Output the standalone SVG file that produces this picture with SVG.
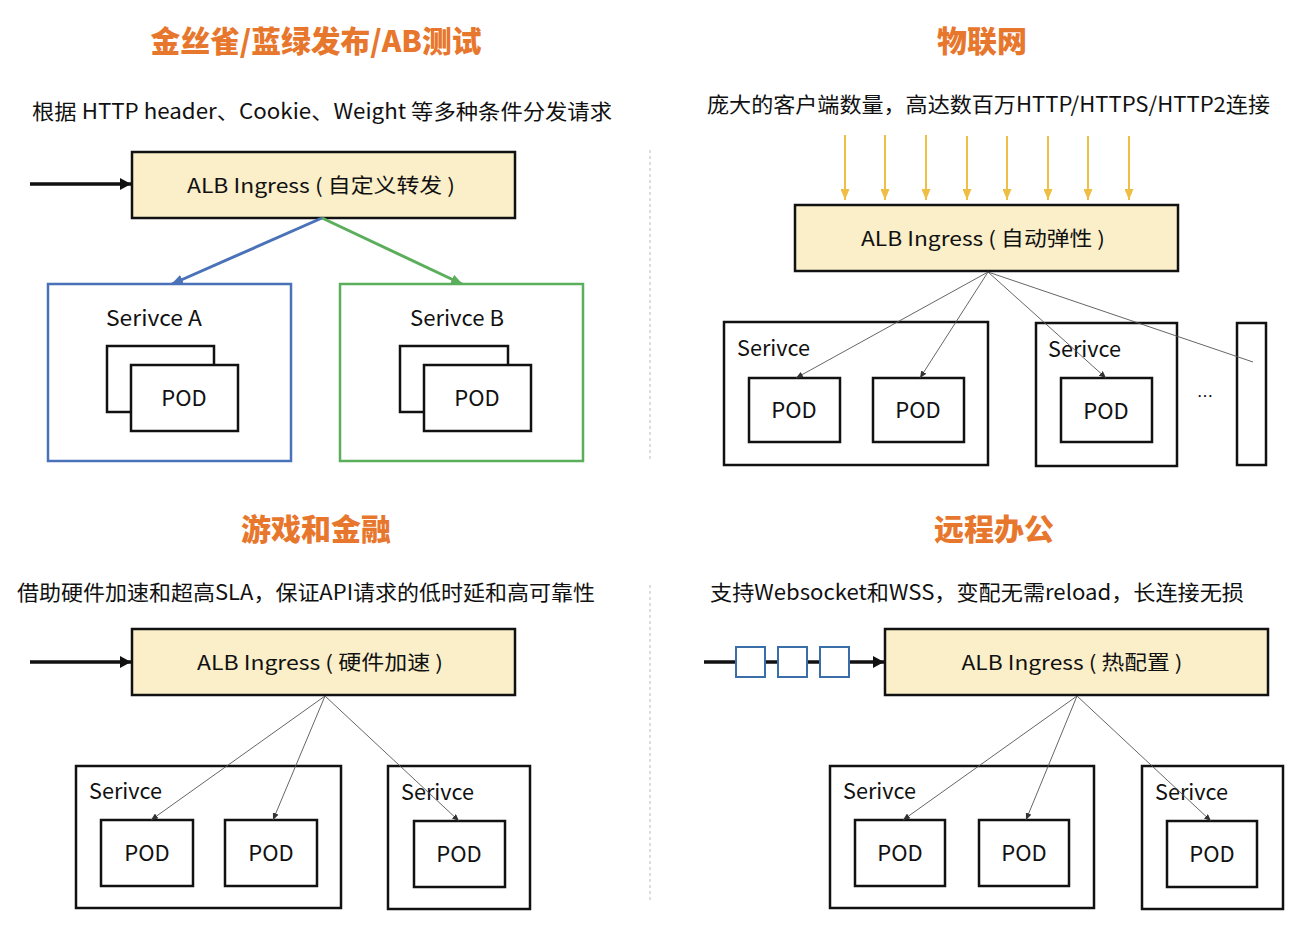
<svg xmlns="http://www.w3.org/2000/svg" width="1304" height="935" viewBox="0 0 1304 935">
<style>
text{font-family:"Noto Sans CJK SC","Noto Sans",sans-serif;fill:#111}
.title{font-size:30px;font-weight:900;fill:#E8772E;text-anchor:middle}
.sub{font-size:21px}
.alb{fill:#FAEFC9;stroke:#111;stroke-width:2.5}
.albt{font-size:20px;text-anchor:middle}
.svc{fill:#fff;stroke:#111;stroke-width:2.5}
.pod{fill:#fff;stroke:#111;stroke-width:2.5}
.lbl{font-size:22px}
.podt{font-size:22px;text-anchor:middle}
.thin{stroke:#555;stroke-width:0.9;fill:none}
.div{stroke:#bbb;stroke-width:1;stroke-dasharray:3 3}
</style>
<defs>
<marker id="ab" markerUnits="userSpaceOnUse" markerWidth="11" markerHeight="12" refX="11" refY="6" orient="auto"><path d="M0,0 L11,6 L0,12 z" fill="#111"/></marker>
<marker id="abl" markerUnits="userSpaceOnUse" markerWidth="12" markerHeight="10" refX="11" refY="5" orient="auto"><path d="M0,0 L12,5 L0,10 z" fill="#4A72B8"/></marker>
<marker id="agr" markerUnits="userSpaceOnUse" markerWidth="12" markerHeight="10" refX="11" refY="5" orient="auto"><path d="M0,0 L12,5 L0,10 z" fill="#5BAE5B"/></marker>
<marker id="ay" markerUnits="userSpaceOnUse" markerWidth="11" markerHeight="9" refX="11" refY="4.5" orient="auto"><path d="M0,0 L11,4.5 L0,9 z" fill="#EFBE45"/></marker>
<marker id="at" markerUnits="userSpaceOnUse" markerWidth="7" markerHeight="6" refX="7" refY="3" orient="auto"><path d="M0,0 L7,3 L0,6 z" fill="#333"/></marker>
</defs>

<g id="dividers">
<line class="div" x1="650" y1="150" x2="650" y2="462"/>
<line class="div" x1="650" y1="585" x2="650" y2="900"/>
</g>

<!-- Panel 1 -->
<g id="p1-title"><text class="title" x="316" y="52" textLength="331" lengthAdjust="spacingAndGlyphs">金丝雀/蓝绿发布/AB测试</text></g>
<g id="p1-sub"><text class="sub" x="32" y="119" textLength="580" lengthAdjust="spacingAndGlyphs">根据 HTTP header、Cookie、Weight 等多种条件分发请求</text></g>
<g id="p1-alb"><rect class="alb" x="132" y="152" width="383" height="66"/><text class="albt" x="321" y="193" textLength="268" lengthAdjust="spacingAndGlyphs">ALB Ingress ( 自定义转发 )</text></g>
<g id="p1-svcA"><rect x="48" y="284" width="243" height="177" fill="#fff" stroke="#4A72B8" stroke-width="2.5"/><text class="lbl" x="106" y="326" textLength="96" lengthAdjust="spacingAndGlyphs">Serivce A</text>
<rect class="pod" x="107" y="346" width="107" height="66"/><rect class="pod" x="131" y="365" width="107" height="66"/><text class="podt" x="184" y="406">POD</text></g>
<g id="p1-svcB"><rect x="340" y="284" width="243" height="177" fill="#fff" stroke="#5BAE5B" stroke-width="2.5"/><text class="lbl" x="410" y="326" textLength="94" lengthAdjust="spacingAndGlyphs">Serivce B</text>
<rect class="pod" x="400" y="346" width="108" height="66"/><rect class="pod" x="424" y="365" width="107" height="66"/><text class="podt" x="477" y="406">POD</text></g>

<!-- Panel 2 -->
<g id="p2-title"><text class="title" x="982" y="52">物联网</text></g>
<g id="p2-sub"><text class="sub" x="707" y="112" textLength="563" lengthAdjust="spacingAndGlyphs">庞大的客户端数量，高达数百万HTTP/HTTPS/HTTP2连接</text></g>
<g id="p2-alb"><rect class="alb" x="795" y="205" width="383" height="66"/><text class="albt" x="983" y="246" textLength="244" lengthAdjust="spacingAndGlyphs">ALB Ingress ( 自动弹性 )</text></g>
<g id="p2-svc1"><rect class="svc" x="724" y="322" width="264" height="143"/><text class="lbl" x="737" y="356" textLength="73" lengthAdjust="spacingAndGlyphs">Serivce</text>
<rect class="pod" x="749" y="378" width="91" height="64"/><text class="podt" x="794" y="418">POD</text>
<rect class="pod" x="873" y="378" width="91" height="64"/><text class="podt" x="918" y="418">POD</text></g>
<g id="p2-svc2"><rect class="svc" x="1036" y="323" width="141" height="143"/><text class="lbl" x="1048" y="357" textLength="73" lengthAdjust="spacingAndGlyphs">Serivce</text>
<rect class="pod" x="1061" y="378" width="91" height="64"/><text class="podt" x="1106" y="419">POD</text></g>
<g id="p2-more"><text x="1205" y="402" font-size="16" text-anchor="middle">…</text></g>
<g id="p2-svc3"><rect class="svc" x="1237" y="323" width="29" height="142"/></g>

<!-- Panel 3 -->
<g id="p3-title"><text class="title" x="316" y="540">游戏和金融</text></g>
<g id="p3-sub"><text class="sub" x="17" y="600" textLength="578" lengthAdjust="spacingAndGlyphs">借助硬件加速和超高SLA，保证API请求的低时延和高可靠性</text></g>
<g id="p3-alb"><rect class="alb" x="132" y="629" width="383" height="66"/><text class="albt" x="320" y="670" textLength="246" lengthAdjust="spacingAndGlyphs">ALB Ingress ( 硬件加速 )</text></g>
<g id="p3-svc1"><rect class="svc" x="76" y="766" width="265" height="142"/><text class="lbl" x="89" y="799" textLength="73" lengthAdjust="spacingAndGlyphs">Serivce</text>
<rect class="pod" x="101" y="820" width="92" height="66"/><text class="podt" x="147" y="861">POD</text>
<rect class="pod" x="225" y="820" width="92" height="66"/><text class="podt" x="271" y="861">POD</text></g>
<g id="p3-svc2"><rect class="svc" x="388" y="766" width="142" height="143"/><text class="lbl" x="401" y="800" textLength="73" lengthAdjust="spacingAndGlyphs">Serivce</text>
<rect class="pod" x="414" y="821" width="91" height="66"/><text class="podt" x="459" y="862">POD</text></g>

<!-- Panel 4 -->
<g id="p4-title"><text class="title" x="994" y="540">远程办公</text></g>
<g id="p4-sub"><text class="sub" x="710" y="600" textLength="534" lengthAdjust="spacingAndGlyphs">支持Websocket和WSS，变配无需reload，长连接无损</text></g>
<g id="p4-alb"><rect class="alb" x="885" y="629" width="383" height="66"/><text class="albt" x="1072" y="670" textLength="221" lengthAdjust="spacingAndGlyphs">ALB Ingress ( 热配置 )</text></g>
<g id="p4-svc1"><rect class="svc" x="830" y="766" width="264" height="142"/><text class="lbl" x="843" y="799" textLength="73" lengthAdjust="spacingAndGlyphs">Serivce</text>
<rect class="pod" x="855" y="820" width="90" height="66"/><text class="podt" x="900" y="861">POD</text>
<rect class="pod" x="979" y="820" width="90" height="66"/><text class="podt" x="1024" y="861">POD</text></g>
<g id="p4-svc2"><rect class="svc" x="1142" y="766" width="141" height="143"/><text class="lbl" x="1155" y="800" textLength="73" lengthAdjust="spacingAndGlyphs">Serivce</text>
<rect class="pod" x="1167" y="821" width="90" height="66"/><text class="podt" x="1212" y="862">POD</text></g>

<g id="connectors">
<line x1="30" y1="184" x2="131" y2="184" stroke="#111" stroke-width="3.5" marker-end="url(#ab)"/>
<line x1="322" y1="218" x2="172" y2="284" stroke="#4A72B8" stroke-width="3" marker-end="url(#abl)"/>
<line x1="322" y1="218" x2="462" y2="284" stroke="#5BAE5B" stroke-width="3" marker-end="url(#agr)"/>

<g stroke="#EFBE45" stroke-width="2">
<line x1="845" y1="135" x2="845" y2="200" marker-end="url(#ay)"/>
<line x1="885" y1="135" x2="885" y2="200" marker-end="url(#ay)"/>
<line x1="926" y1="135" x2="926" y2="200" marker-end="url(#ay)"/>
<line x1="967" y1="136" x2="967" y2="200" marker-end="url(#ay)"/>
<line x1="1007" y1="136" x2="1007" y2="200" marker-end="url(#ay)"/>
<line x1="1048" y1="136" x2="1048" y2="200" marker-end="url(#ay)"/>
<line x1="1088" y1="136" x2="1088" y2="200" marker-end="url(#ay)"/>
<line x1="1129" y1="136" x2="1129" y2="200" marker-end="url(#ay)"/>
</g>
<line class="thin" x1="988" y1="272" x2="796" y2="378" marker-end="url(#at)"/>
<line class="thin" x1="988" y1="272" x2="920" y2="378" marker-end="url(#at)"/>
<line class="thin" x1="988" y1="272" x2="1106" y2="378" marker-end="url(#at)"/>
<line class="thin" x1="988" y1="272" x2="1253" y2="362"/>

<line x1="30" y1="662" x2="131" y2="662" stroke="#111" stroke-width="3.5" marker-end="url(#ab)"/>
<line class="thin" x1="325" y1="696" x2="151" y2="820" marker-end="url(#at)"/>
<line class="thin" x1="325" y1="696" x2="273" y2="820" marker-end="url(#at)"/>
<line class="thin" x1="325" y1="696" x2="459" y2="821" marker-end="url(#at)"/>

<line x1="704" y1="662" x2="884" y2="662" stroke="#111" stroke-width="3.5" marker-end="url(#ab)"/>
<g fill="#fff" stroke="#3A6EA8" stroke-width="2">
<rect x="736" y="647" width="29" height="30"/>
<rect x="778" y="647" width="29" height="30"/>
<rect x="820" y="647" width="29" height="30"/>
</g>
<line class="thin" x1="1077" y1="696" x2="903" y2="820" marker-end="url(#at)"/>
<line class="thin" x1="1077" y1="696" x2="1026" y2="820" marker-end="url(#at)"/>
<line class="thin" x1="1077" y1="696" x2="1211" y2="821" marker-end="url(#at)"/>
</g>
</svg>
